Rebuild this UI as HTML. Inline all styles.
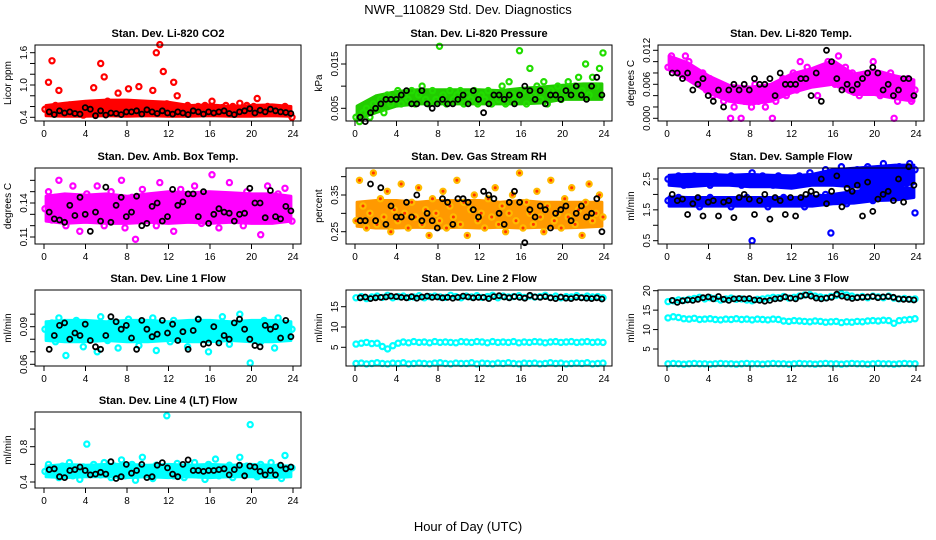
<!DOCTYPE html>
<html><head><meta charset="utf-8"><style>
html,body{margin:0;padding:0;background:#fff}
svg{display:block;font-family:"Liberation Sans",Arial,sans-serif}
</style></head><body>
<svg id="chart" width="936" height="540" viewBox="0 0 936 540">
<rect width="936" height="540" fill="#fff"/>
<text x="468" y="14" text-anchor="middle" font-size="13">NWR_110829  Std. Dev. Diagnostics</text>
<text x="468" y="531" text-anchor="middle" font-size="13">Hour of Day (UTC)</text>
</svg>
<script>
const xTicks = [0,4,8,12,16,20,24];
const bandHours = [0.2,2,4,6,8,10,12,14,16,18,20,22,23.8];
const co2 = [0.55,1.05,1.45,0.62,0.9,0.5,0.58,0.63,0.47,0.55,0.6,0.44,0.57,0.66,0.95,0.53,1.4,1.15,0.7,0.55,0.62,0.85,0.58,0.66,0.93,0.52,0.6,0.97,0.55,0.62,0.5,0.9,1.6,1.75,1.25,0.65,0.5,1.05,0.8,0.58,0.47,0.62,0.5,0.58,0.6,0.48,0.62,0.5,0.7,0.55,0.48,0.58,0.62,0.55,0.6,0.53,0.66,0.5,0.62,0.55,0.6,0.75,0.5,0.56,0.6,0.52,0.58,0.55,0.47,0.6,0.52,0.4];
const co2K = [0.5,0.45,0.52,0.48,0.5,0.47,0.46,0.58,0.55,0.43,0.52,0.44,0.48,0.47,0.45,0.5,0.5,0.52,0.46,0.54,0.5,0.47,0.52,0.48,0.46,0.5,0.48,0.45,0.52,0.5,0.46,0.5,0.48,0.5,0.52,0.47,0.45,0.5,0.52,0.56,0.48,0.53,0.5,0.55,0.52,0.5,0.49,0.47];
const co2Lo = [0.43,0.42,0.42,0.43,0.42,0.43,0.42,0.42,0.43,0.42,0.42,0.43,0.42];
const co2Hi = [0.62,0.66,0.7,0.72,0.72,0.7,0.68,0.62,0.63,0.6,0.62,0.63,0.6];
const pres = [0.003,0.002,0.004,0.005,0.003,0.006,0.005,0.007,0.004,0.008,0.006,0.007,0.009,0.006,0.008,0.007,0.009,0.006,0.008,0.010,0.007,0.006,0.009,0.007,0.019,0.008,0.006,0.009,0.007,0.008,0.009,0.006,0.008,0.007,0.009,0.006,0.008,0.007,0.009,0.006,0.008,0.007,0.010,0.006,0.011,0.008,0.007,0.018,0.009,0.006,0.014,0.008,0.010,0.007,0.011,0.006,0.009,0.008,0.010,0.007,0.009,0.011,0.008,0.010,0.012,0.009,0.015,0.008,0.012,0.010,0.014,0.0175];
const presK = [0.003,0.002,0.004,0.005,0.006,0.007,0.007,0.007,0.008,0.009,0.006,0.006,0.009,0.006,0.005,0.006,0.007,0.006,0.006,0.007,0.008,0.006,0.009,0.007,0.004,0.006,0.008,0.008,0.007,0.008,0.006,0.008,0.010,0.009,0.007,0.009,0.006,0.008,0.008,0.007,0.009,0.008,0.010,0.008,0.007,0.010,0.012,0.008];
const presLo = [0.0025,0.004,0.0055,0.006,0.006,0.006,0.006,0.006,0.006,0.0062,0.007,0.007,0.007];
const presHi = [0.0055,0.0078,0.0088,0.0092,0.0092,0.0092,0.0092,0.009,0.0095,0.0098,0.0102,0.0105,0.0105];
const temp = [0.009,0.011,0.010,0.008,0.009,0.011,0.010,0.007,0.008,0.006,0.008,0.005,0.007,0.004,0.006,0.005,0.003,0.004,0.000,0.002,0.005,0.000,0.003,0.004,0.002,0.006,0.003,0.005,0.002,0.004,0.000,0.003,0.005,0.007,0.004,0.006,0.008,0.005,0.010,0.007,0.009,0.006,0.008,0.004,0.007,0.009,0.010,0.008,0.006,0.011,0.007,0.009,0.005,0.008,0.006,0.004,0.007,0.005,0.008,0.010,0.006,0.004,0.007,0.005,0.008,0.000,0.003,0.006,0.004,0.007,0.003,0.005];
const tempK = [0.008,0.008,0.007,0.008,0.005,0.006,0.007,0.004,0.003,0.005,0.002,0.005,0.006,0.005,0.006,0.005,0.007,0.006,0.006,0.007,0.004,0.008,0.006,0.006,0.006,0.007,0.007,0.004,0.008,0.003,0.012,0.010,0.007,0.005,0.006,0.005,0.006,0.007,0.008,0.009,0.008,0.005,0.006,0.004,0.005,0.007,0.007,0.004];
const tempLo = [0.0085,0.0068,0.0045,0.003,0.0025,0.003,0.0045,0.0055,0.006,0.0042,0.0042,0.0035,0.003];
const tempHi = [0.011,0.0098,0.0075,0.0058,0.0055,0.006,0.0078,0.0088,0.0102,0.0078,0.0085,0.0075,0.0068];
const amb = [0.135,0.15,0.125,0.145,0.16,0.13,0.12,0.14,0.155,0.128,0.115,0.138,0.148,0.132,0.125,0.155,0.142,0.12,0.135,0.15,0.128,0.14,0.16,0.118,0.132,0.145,0.108,0.138,0.152,0.126,0.142,0.133,0.12,0.158,0.136,0.128,0.146,0.115,0.138,0.152,0.13,0.144,0.125,0.155,0.14,0.122,0.135,0.148,0.165,0.13,0.118,0.142,0.136,0.158,0.127,0.145,0.133,0.12,0.15,0.138,0.128,0.146,0.112,0.134,0.155,0.125,0.14,0.148,0.13,0.153,0.136,0.124];
const ambK = [0.132,0.126,0.125,0.123,0.138,0.129,0.145,0.13,0.115,0.132,0.124,0.154,0.123,0.138,0.145,0.128,0.132,0.146,0.12,0.122,0.137,0.14,0.124,0.128,0.152,0.138,0.141,0.148,0.148,0.128,0.15,0.122,0.13,0.135,0.132,0.131,0.124,0.13,0.131,0.153,0.14,0.14,0.127,0.151,0.128,0.126,0.137,0.133];
const ambLo = [0.124,0.122,0.123,0.122,0.122,0.123,0.122,0.123,0.122,0.123,0.122,0.122,0.124];
const ambHi = [0.146,0.148,0.147,0.148,0.146,0.148,0.15,0.149,0.15,0.149,0.148,0.148,0.146];
const rh = [0.28,0.39,0.32,0.26,0.3,0.41,0.27,0.34,0.29,0.36,0.25,0.31,0.28,0.38,0.3,0.26,0.33,0.29,0.37,0.27,0.31,0.24,0.34,0.3,0.28,0.36,0.26,0.32,0.29,0.39,0.27,0.33,0.24,0.31,0.35,0.28,0.3,0.26,0.34,0.29,0.37,0.27,0.32,0.25,0.3,0.35,0.28,0.41,0.26,0.33,0.3,0.27,0.36,0.29,0.25,0.32,0.39,0.28,0.3,0.26,0.34,0.29,0.37,0.27,0.31,0.24,0.33,0.38,0.28,0.3,0.35,0.29];
const rhK = [0.28,0.28,0.38,0.28,0.37,0.27,0.32,0.29,0.29,0.33,0.29,0.35,0.28,0.3,0.28,0.26,0.34,0.33,0.27,0.34,0.34,0.33,0.31,0.29,0.36,0.35,0.34,0.3,0.27,0.33,0.36,0.33,0.22,0.31,0.29,0.32,0.31,0.26,0.3,0.31,0.32,0.28,0.3,0.32,0.29,0.3,0.34,0.25];
const rhLo = [0.265,0.26,0.26,0.262,0.26,0.262,0.26,0.262,0.26,0.262,0.26,0.262,0.265];
const rhHi = [0.33,0.335,0.335,0.33,0.335,0.335,0.335,0.33,0.335,0.33,0.33,0.33,0.33];
const sfUpper = [2.5,2.4,2.6,2.3,2.5,2.6,2.4,2.5,2.3,2.6,2.4,2.5,2.6,2.4,2.3,2.5,2.7,2.4,2.6,2.5,2.3,2.6,2.4,2.5,2.3,2.6,2.4,2.7,2.5,2.6,2.8,2.5,2.6,2.9,2.4,2.7,2.8,2.6,2.9,2.5,2.7,3.0,2.6,2.8,2.9,2.7,3.0,2.8];
const sfLower = [1.8,1.7,1.9,1.8,1.7,1.8,1.6,1.8,1.9,1.7,1.8,1.7,1.6,1.8,1.7,1.9,0.5,1.8,1.7,1.6,1.8,1.7,1.9,1.8,1.7,1.8,1.6,1.9,1.8,1.9,2.0,0.75,1.8,1.9,1.7,2.0,1.9,2.1,2.0,1.8,2.1,1.9,2.2,2.0,2.1,2.2,2.3,1.4];
const sfK = [2.0,1.8,1.85,1.35,1.7,1.9,1.3,1.75,1.8,1.3,1.75,1.8,1.25,1.9,2.0,1.85,1.35,1.8,2.0,1.2,1.9,1.8,1.35,1.9,1.3,1.9,2.0,2.1,2.0,2.5,1.7,2.1,2.6,1.6,2.2,2.1,2.3,1.3,2.4,1.45,1.85,2.0,2.1,1.8,2.5,1.75,2.9,2.3];
const sfUpLo = [2.3,2.25,2.3,2.3,2.25,2.25,2.2,2.3,2.3,2.25,2.2,2.25,2.35];
const sfUpHi = [2.62,2.65,2.65,2.62,2.65,2.62,2.6,2.65,2.8,2.85,2.9,2.95,2.95];
const sfLoLo = [1.62,1.62,1.62,1.62,1.62,1.62,1.62,1.62,1.7,1.72,1.8,1.82,1.9];
const sfLoHi = [1.92,1.9,1.9,1.9,1.9,1.9,1.9,1.92,2.0,2.1,2.15,2.2,2.2];
const line1 = [0.088,0.082,0.093,0.078,0.097,0.085,0.067,0.09,0.08,0.095,0.086,0.074,0.092,0.083,0.089,0.07,0.098,0.085,0.079,0.094,0.088,0.073,0.091,0.084,0.096,0.08,0.087,0.075,0.093,0.086,0.082,0.097,0.071,0.089,0.084,0.092,0.078,0.095,0.086,0.081,0.09,0.074,0.088,0.083,0.096,0.08,0.087,0.07,0.093,0.085,0.079,0.098,0.088,0.076,0.091,0.084,0.1,0.082,0.089,0.061,0.093,0.086,0.078,0.095,0.084,0.09,0.073,0.097,0.087,0.082,0.092,0.088];
const line1K = [0.072,0.083,0.091,0.093,0.08,0.085,0.083,0.092,0.079,0.074,0.072,0.083,0.098,0.094,0.088,0.091,0.081,0.072,0.095,0.088,0.082,0.084,0.095,0.085,0.092,0.079,0.086,0.072,0.087,0.096,0.076,0.077,0.09,0.077,0.083,0.08,0.093,0.096,0.088,0.08,0.075,0.074,0.091,0.088,0.09,0.081,0.095,0.082];
const line1Lo = [0.079,0.078,0.078,0.079,0.078,0.078,0.079,0.078,0.078,0.079,0.078,0.078,0.079];
const line1Hi = [0.094,0.095,0.095,0.094,0.095,0.095,0.094,0.095,0.095,0.094,0.095,0.095,0.094];
const line2A = [17.2,17.5,17.0,17.4,17.6,17.3,17.8,17.2,17.5,17.6,17.3,17.4,17.7,17.2,17.5,17.6,17.4,17.3,17.8,17.5,17.2,17.6,17.4,17.7,17.3,17.5,17.8,17.2,17.6,17.4,17.5,17.7,17.3,17.6,17.4,17.5,17.8,17.3,17.6,17.2,17.5,17.4,17.7,17.3,17.6,17.4,17.5,17.2];
const line2B = [5.8,6.0,6.2,5.9,6.0,5.2,4.6,5.4,6.0,6.3,6.1,6.4,6.2,6.3,6.1,6.4,6.2,6.3,6.2,6.1,6.4,6.3,6.2,6.4,6.3,6.1,6.4,6.2,6.3,6.2,6.4,6.1,6.3,6.2,6.4,6.3,6.1,6.3,6.4,6.2,6.3,6.4,6.2,6.3,6.4,6.2,6.3,6.2];
const line2C = [1.0,1.1,0.9,1.0,1.2,1.0,0.9,1.1,1.0,1.2,0.9,1.0,1.1,1.0,0.9,1.1,1.2,1.0,0.9,1.1,1.0,1.0,1.2,0.9,1.1,1.0,0.9,1.1,1.0,1.2,1.0,0.9,1.1,1.0,1.1,0.9,1.0,1.2,1.0,1.1,0.9,1.0,1.1,1.0,1.2,0.9,1.0,1.1];
const line2K = [17.2,17.4,17.0,17.2,17.3,17.4,17.6,17.5,17.3,17.2,17.5,17.1,17.4,17.6,17.3,17.4,17.2,17.3,17.1,17.3,17.6,17.4,17.2,17.3,17.3,17.0,17.5,17.7,17.4,17.2,17.5,17.3,17.1,17.8,17.4,17.3,17.5,17.2,17.0,17.4,17.1,17.0,17.3,17.2,17.1,17.0,17.2,16.9];
const line3A = [17.2,17.4,17.6,17.5,17.8,18.0,18.3,17.9,18.2,18.0,17.6,17.9,18.1,17.8,17.9,17.6,17.4,17.8,17.9,18.1,18.3,18.2,18.5,18.1,18.3,18.6,18.9,19.0,18.6,18.4,18.2,18.5,18.8,19.2,18.9,18.6,18.3,18.5,18.2,18.6,18.4,18.2,18.6,18.1,17.9,18.0,17.8,17.9];
const line3B = [13.0,13.3,13.1,12.8,12.7,12.9,12.6,12.7,12.8,12.6,12.5,12.7,12.6,12.8,12.6,12.7,12.5,12.7,12.6,12.5,12.7,12.6,12.2,12.1,12.3,12.2,12.1,12.0,12.2,12.1,11.9,12.0,12.1,11.8,12.0,11.9,12.1,12.0,12.2,12.3,12.2,12.4,12.3,11.6,12.3,12.5,12.6,12.8];
const line3C = [1.2,1.3,1.2,1.1,1.2,1.3,1.2,1.2,1.1,1.2,1.3,1.2,1.2,1.1,1.2,1.3,1.2,1.2,1.1,1.2,1.3,1.2,1.2,1.1,1.2,1.3,1.2,1.2,1.1,1.2,1.3,1.2,1.2,1.1,1.2,1.3,1.2,1.2,1.1,1.2,1.3,1.2,1.2,1.1,1.2,1.3,1.2,1.2];
const line3K = [17.5,17.0,17.4,17.6,17.5,17.8,18.2,18.4,17.9,18.5,17.8,17.5,17.9,18.0,17.9,18.0,17.6,17.5,17.3,17.5,17.9,18.0,18.4,18.1,17.9,18.6,18.9,18.6,18.1,17.9,18.1,18.3,19.1,18.6,18.3,18.0,18.2,18.3,18.4,18.5,18.2,18.4,18.5,18.3,17.9,17.8,17.8,17.6];
const line4 = [0.52,0.6,0.48,0.55,0.45,0.58,0.5,0.62,0.47,0.54,0.43,0.57,0.83,0.5,0.6,0.55,0.48,0.62,0.53,0.45,0.58,0.51,0.65,0.47,0.55,0.6,0.42,0.53,0.68,0.49,0.56,0.44,0.59,0.52,0.5,1.15,0.57,0.47,0.61,0.53,0.45,0.58,0.5,0.62,0.48,0.55,0.43,0.6,0.52,0.66,0.47,0.56,0.5,0.59,0.45,0.53,0.68,0.49,0.58,1.05,0.52,0.46,0.6,0.54,0.48,0.62,0.5,0.57,0.44,0.7,0.52,0.56];
const line4K = [0.54,0.55,0.46,0.45,0.53,0.54,0.57,0.53,0.48,0.49,0.51,0.49,0.63,0.44,0.46,0.6,0.5,0.53,0.6,0.45,0.46,0.59,0.62,0.56,0.49,0.46,0.6,0.65,0.53,0.53,0.52,0.53,0.53,0.54,0.55,0.48,0.54,0.59,0.47,0.58,0.57,0.52,0.48,0.53,0.48,0.59,0.55,0.57];
const line4Lo = [0.46,0.45,0.46,0.46,0.45,0.46,0.45,0.46,0.45,0.46,0.46,0.45,0.46];
const line4Hi = [0.58,0.6,0.59,0.6,0.6,0.59,0.6,0.59,0.6,0.59,0.6,0.59,0.58];

const svgNS = "http://www.w3.org/2000/svg";
const svg = document.getElementById('chart');
function mk(tag, attrs, parent){
  const e = document.createElementNS(svgNS, tag);
  for (const k in attrs) e.setAttribute(k, attrs[k]);
  (parent||svg).appendChild(e); return e;
}
const W = 266, H = 76;
const panels = [
  {name:'co2', title:'Stan. Dev. Li-820 CO2', yl:'Licor ppm', L:35, T:45, r:[0.4,72.3,1.6,7.7], ticks:[0.4,0.6,0.8,1.0,1.2,1.4,1.6], labels:['0.4','1.0','1.6'], bands:[[co2Lo,co2Hi,'#ff0000']], series:[[co2,'#ff0000'],[co2K,'#000000']]},
  {name:'pressure', title:'Stan. Dev. Li-820 Pressure', yl:'kPa', L:346, T:45, r:[0.005,63.3,0.015,19], ticks:[0.005,0.010,0.015], labels:['0.005','0.015'], bands:[[presLo,presHi,'#22cc00']], series:[[pres,'#22dd00'],[presK,'#000000']]},
  {name:'temp', title:'Stan. Dev. Li-820 Temp.', yl:'degrees C', L:658, T:45, r:[0,73.3,0.012,5.3], ticks:[0,0.002,0.004,0.006,0.008,0.010,0.012], labels:['0.000','0.006','0.012'], bands:[[tempLo,tempHi,'#ff00ff']], series:[[temp,'#ff00ff'],[tempK,'#000000']]},
  {name:'amb-box-temp', title:'Stan. Dev. Amb. Box Temp.', yl:'degrees C', L:35, T:168, r:[0.11,69,0.14,35], ticks:[0.11,0.12,0.13,0.14,0.15,0.16], labels:['0.11','0.14'], bands:[[ambLo,ambHi,'#ff00ff']], series:[[amb,'#ff00ff'],[ambK,'#000000']]},
  {name:'gas-rh', title:'Stan. Dev. Gas Stream RH', yl:'percent', L:346, T:168, r:[0.25,63.7,0.35,27], ticks:[0.25,0.30,0.35,0.40], labels:['0.25','0.35'], bands:[[rhLo,rhHi,'#ff9900']], series:[[rh,'#ffbb00','#ff3300'],[rhK,'#000000']]},
  {name:'sample-flow', title:'Stan. Dev. Sample Flow', yl:'ml/min', L:658, T:168, r:[0.5,72.7,2.5,11], ticks:[0.5,1.0,1.5,2.0,2.5], labels:['0.5','1.5','2.5'], bands:[[sfUpLo,sfUpHi,'#0000ff'],[sfLoLo,sfLoHi,'#0000ff']], series:[[sfUpper,'#0000ff'],[sfLower,'#0000ff'],[sfK,'#000000']]},
  {name:'line1-flow', title:'Stan. Dev. Line 1 Flow', yl:'ml/min', L:35, T:290, r:[0.06,74.3,0.09,36.7], ticks:[0.06,0.07,0.08,0.09,0.10], labels:['0.06','0.09'], bands:[[line1Lo,line1Hi,'#00ffff']], series:[[line1,'#00ffff'],[line1K,'#000000']]},
  {name:'line2-flow', title:'Stan. Dev. Line 2 Flow', yl:'ml/min', L:346, T:290, r:[5,57.3,15,16.7], ticks:[5,10,15], labels:['5','10','15'], bands:[], series:[[line2A,'#00ffff'],[line2B,'#00ffff'],[line2C,'#00ffff'],[line2K,'#000000']]},
  {name:'line3-flow', title:'Stan. Dev. Line 3 Flow', yl:'ml/min', L:658, T:290, r:[5,59,20,0.7], ticks:[5,10,15,20], labels:['5','10','15','20'], bands:[], series:[[line3A,'#00ffff'],[line3B,'#00ffff'],[line3C,'#00ffff'],[line3K,'#000000']]},
  {name:'line4-flow', title:'Stan. Dev. Line 4 (LT) Flow', yl:'ml/min', L:35, T:412, r:[0.4,70,0.8,34.7], ticks:[0.4,0.6,0.8,1.0], labels:['0.4','0.8'], bands:[[line4Lo,line4Hi,'#00ffff']], series:[[line4,'#00ffff'],[line4K,'#000000']]}
];
panels.forEach(p => {
  const g = mk('g', {});
  
  
  const xs = h => p.L + 9 + h / 24 * 249;
  const ys = v => p.T + p.r[1] + (v - p.r[0]) / (p.r[2] - p.r[0]) * (p.r[3] - p.r[1]);
  const B = p.T + H;
  const t = mk('text', {x:p.L + W/2, y:p.T - 8, 'text-anchor':'middle', 'font-size':'11', 'font-weight':'bold'}, g);
  t.textContent = p.title;
  
  
  // dense cloud envelopes
  p.bands.forEach(b => {
    const lo = b[0], hi = b[1];
    const pts = [];
    hi.forEach((v, i) => pts.push(xs(bandHours[i]).toFixed(1) + ',' + ys(v).toFixed(1)));
    for (let i = lo.length - 1; i >= 0; i--) pts.push(xs(bandHours[i]).toFixed(1) + ',' + ys(lo[i]).toFixed(1));
    const poly = mk('polygon', {points: pts.join(' '), fill: b[2], stroke: b[2], 'stroke-width': 3, 'stroke-linejoin':'round'}, g);
    
    
  });
  // series
  p.series.forEach((s, si) => {
    const vals = s[0], n = vals.length, black = s[1] === '#000000';
    const sg = mk('g', {}, g);
    
    
    vals.forEach((v, i) => {
      const h = black ? 0.5 + i * (23.3 / (n - 1)) : 0.1 + i * (23.8 / (n - 1));
      const c = mk('circle', {cx:xs(h).toFixed(1), cy:ys(v).toFixed(1), r: black ? 2.5 : 2.6, fill: s[2] || 'none', stroke:s[1], 'stroke-width': black ? 1.8 : 2.2}, sg);
      
      
    });
  });
  const box = mk('rect', {x:p.L, y:p.T, width:W, height:H, fill:'none', stroke:'#000', 'stroke-width':1}, g);
  
  
  const xa = mk('g', {}, g);
  
  
  xTicks.forEach(tv => {
    mk('line', {x1:xs(tv), x2:xs(tv), y1:B, y2:B+5, stroke:'#000'}, xa);
    const tl = mk('text', {x:xs(tv), y:B+16, 'text-anchor':'middle', 'font-size':'10'}, xa);
    tl.textContent = tv;
    
    
  });
  const ya = mk('g', {}, g);
  
  
  p.ticks.forEach(tv => {
    mk('line', {x1:p.L-5, x2:p.L, y1:ys(tv), y2:ys(tv), stroke:'#000'}, ya);
  });
  p.labels.forEach(lb => {
    const yy = ys(parseFloat(lb));
    const tl = mk('text', {x:p.L-8, y:yy, 'text-anchor':'middle', 'font-size':'10', transform:`rotate(-90 ${p.L-8} ${yy})`}, ya);
    tl.textContent = lb;
    
    
  });
  const cy = p.T + H/2;
  const yt = mk('text', {x:p.L-24, y:cy, 'text-anchor':'middle', 'font-size':'10', transform:`rotate(-90 ${p.L-24} ${cy})`}, g);
  yt.textContent = p.yl;
  
  
});
</script>
</body></html>
